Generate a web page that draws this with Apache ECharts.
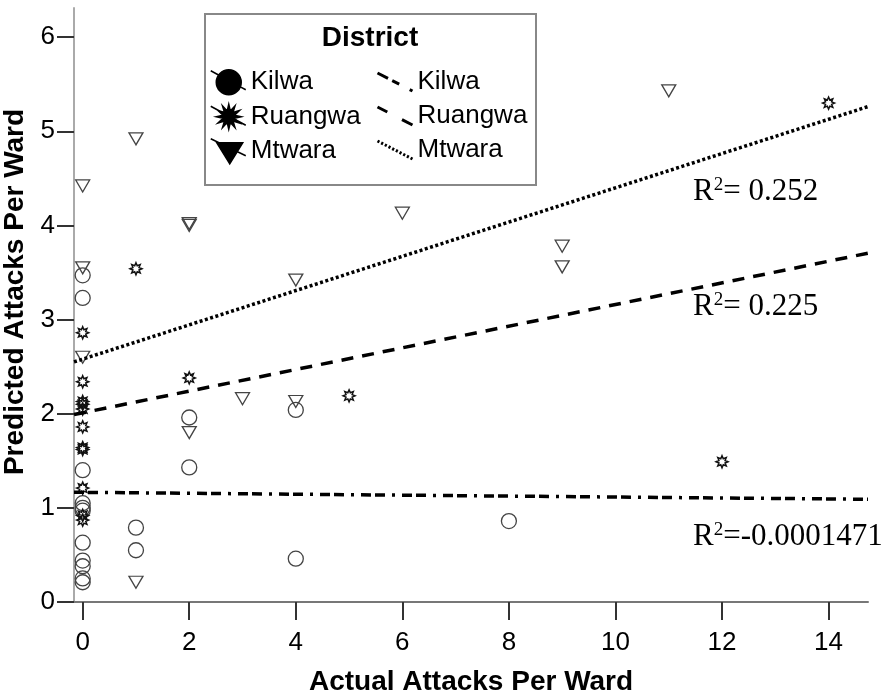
<!DOCTYPE html>
<html>
<head>
<meta charset="utf-8">
<script src="https://cdn.jsdelivr.net/npm/echarts@6/dist/echarts.min.js"></script>
<style>
html,body{margin:0;padding:0;background:#fff}
#chart{width:887px;height:698px}
</style>
</head>
<body>
<div id="chart"></div>
<script>
// data: [actual, predicted]
var kilwa = [[0,3.47],[0,3.23],[0,1.40],[0,1.05],[0,1.00],[0,0.97],[0,0.63],[0,0.44],[0,0.38],[0,0.25],[0,0.21],
  [1,0.79],[1,0.55],[2,1.96],[2,1.43],[4,2.04],[4,0.46],[8,0.86]];
var ruangwa = [[0,2.86],[0,2.34],[0,2.13],[0,2.10],[0,2.05],[0,1.86],[0,1.64],[0,1.62],[0,1.21],[0,0.92],[0,0.87],
  [1,3.54],[2,2.38],[5,2.19],[12,1.49],[14,5.30]];
var mtwara = [[0,4.42],[0,3.55],[0,2.60],[1,4.92],[1,0.21],[2,4.02],[2,4.00],[2,1.80],[3,2.16],[4,3.42],[4,2.13],
  [6,4.13],[9,3.78],[9,3.56],[11,5.43]];

// fit lines: intercept, slope, R2 text
var districts = ['Kilwa','Ruangwa','Mtwara'];
var intercepts = [1.165, 2.01, 2.58];
var slopes = [-0.005, 0.115, 0.182];
var r2Labels = ['-0.0001471', ' 0.225', ' 0.252'];

var xTicks = [0,2,4,6,8,10,12,14];
var yTicks = [0,1,2,3,4,5,6];
var xMin = -0.163, xMax = 14.74, yMin = 0, yMax = 6.31;

function fitLine(i){
  return [[xMin, intercepts[i] + slopes[i]*xMin], [xMax, intercepts[i] + slopes[i]*xMax]];
}

function starPath(cx, cy, R, r, n){
  var s = '';
  for (var i = 0; i < n*2; i++) {
    var a = -Math.PI/2 + i*Math.PI/n;
    var rr = i % 2 ? r : R;
    s += (i ? 'L' : 'M') + (cx + rr*Math.cos(a)).toFixed(2) + ' ' + (cy + rr*Math.sin(a)).toFixed(2) + ' ';
  }
  return s + 'Z';
}
function diagPath(ranges){
  var s = '';
  ranges.forEach(function(t){
    s += 'M' + (35*t[0]).toFixed(2) + ' ' + (18*t[0]).toFixed(2) + 'L' + (35*t[1]).toFixed(2) + ' ' + (18*t[1]).toFixed(2) + ' ';
  });
  return 'path://' + s;
}

var starSym = 'path://' + starPath(10, 10, 10, 5.5, 8);
var iconKilwa = 'path://M5.5 12.5A12.5 12.5 0 1 0 30.5 12.5A12.5 12.5 0 1 0 5.5 12.5Z M0 1L7.8 5.25 M29.6 17.1L35 20';
var iconRuangwa = 'path://' + starPath(18, 12.5, 12.5, 6, 12) + ' M0 2L35 21';
var iconMtwara = 'path://M6 4L32 4L19 25Z M0 0L35 17';
var dots = [];
for (var k = 0; k < 10; k++) dots.push([k*0.105, k*0.105 + 0.055]);
var lineIcons = [diagPath([[0,0.3],[0.42,0.62],[0.92,1]]), diagPath([[0,0.28],[0.7,1]]), diagPath(dots)];
var lineTypes = [[10,4,10,7,3,7], [12,9], [3,2.5]];

var font = 'Liberation Sans';
var chart = echarts.init(document.getElementById('chart'));

var series = [
  {name:'Kilwa', type:'scatter', data:kilwa, symbol:'circle', symbolSize:15,
    itemStyle:{color:'rgba(0,0,0,0)', borderColor:'#444', borderWidth:1.3, opacity:1}},
  {name:'Ruangwa', type:'scatter', data:ruangwa, symbol:starSym, symbolSize:12, symbolKeepAspect:true,
    itemStyle:{color:'rgba(0,0,0,0)', borderColor:'#111', borderWidth:1.5, opacity:1}},
  {name:'Mtwara', type:'scatter', data:mtwara, symbol:'triangle', symbolRotate:180, symbolSize:[14,12],
    itemStyle:{color:'rgba(0,0,0,0)', borderColor:'#444', borderWidth:1.3, opacity:1}}
];
districts.forEach(function(d, i){
  series.push({name:d + ' fit', type:'line', data:fitLine(i), symbol:'none', silent:true,
    lineStyle:{color:'#000', width:3.5, type:lineTypes[i], cap:'butt'}});
});

var r2Tops = [537, 307, 192];
var graphics = [
  {type:'rect', left:204, top:13, z:3, shape:{width:331, height:171},
    style:{fill:'#fff', stroke:'#888', lineWidth:2}},
  {type:'text', z:5, x:370, y:38, style:{text:'District', fontFamily:font, fontWeight:'bold', fontSize:28,
    fill:'#000', align:'center', verticalAlign:'middle'}}
];
r2Labels.forEach(function(t, i){
  graphics.push({type:'text', z:5, x:693, y:r2Tops[i], style:{
    text:'{r|R}{s|2}{r|=' + t + '}', verticalAlign:'middle',
    rich:{r:{fontFamily:'Liberation Serif', fontSize:31, fill:'#000'},
          s:{fontFamily:'Liberation Serif', fontSize:19, fill:'#000', verticalAlign:'top', padding:[0,0,14,0]}}}});
});

var option = {
  animation:false,
  backgroundColor:'#fff',
  grid:{left:74, right:19, top:8, bottom:96, outerBoundsMode:'none'},
  xAxis:{type:'value', min:xMin, max:xMax, splitLine:{show:false},
    name:'Actual Attacks Per Ward', nameLocation:'middle', nameGap:66,
    nameTextStyle:{fontFamily:font, fontWeight:'bold', fontSize:28, color:'#000'},
    axisLine:{show:true, onZero:false, lineStyle:{color:'#777', width:2}},
    axisTick:{show:true, length:18, customValues:xTicks, lineStyle:{color:'#333', width:2}},
    axisLabel:{customValues:xTicks, margin:28, fontFamily:font, fontSize:26, color:'#000'}},
  yAxis:{type:'value', min:yMin, max:yMax, splitLine:{show:false},
    name:'Predicted Attacks Per Ward', nameLocation:'middle', nameGap:34, nameRotate:90,
    nameTextStyle:{fontFamily:font, fontWeight:'bold', fontSize:28, color:'#000', padding:[0,0,0,26]},
    axisLine:{show:true, onZero:false, lineStyle:{color:'#aaa', width:2}},
    axisTick:{show:true, length:17, customValues:yTicks, lineStyle:{color:'#333', width:2}},
    axisLabel:{customValues:yTicks, margin:19, fontFamily:font, fontSize:26, color:'#000'}},
  legend:[
    {orient:'vertical', left:210, top:69, padding:0, itemGap:8, itemWidth:35, itemHeight:25, z:4,
      selectedMode:false,
      textStyle:{fontFamily:font, fontSize:26, color:'#000', lineHeight:26},
      data:[
        {name:'Kilwa', icon:iconKilwa, itemStyle:{color:'#000', borderColor:'#000', borderWidth:1.5, opacity:1}},
        {name:'Ruangwa', icon:iconRuangwa, itemStyle:{color:'#000', borderColor:'#000', borderWidth:1.5, opacity:1}},
        {name:'Mtwara', icon:iconMtwara, itemStyle:{color:'#000', borderColor:'#000', borderWidth:1.5, opacity:1}}
      ]},
    {orient:'vertical', left:376, top:69, padding:0, itemGap:8, itemWidth:35, itemHeight:18, z:4,
      selectedMode:false,
      textStyle:{fontFamily:font, fontSize:26, color:'#000', lineHeight:26},
      formatter:function(n){ return n.replace(' fit',''); },
      data:districts.map(function(d, i){
        return {name:d + ' fit', icon:lineIcons[i],
          itemStyle:{color:'rgba(0,0,0,0)', borderColor:'#000', borderWidth:3, borderCap:'butt'}};
      })}
  ],
  graphic:graphics,
  series:series
};
chart.setOption(option);
</script>
</body>
</html>
